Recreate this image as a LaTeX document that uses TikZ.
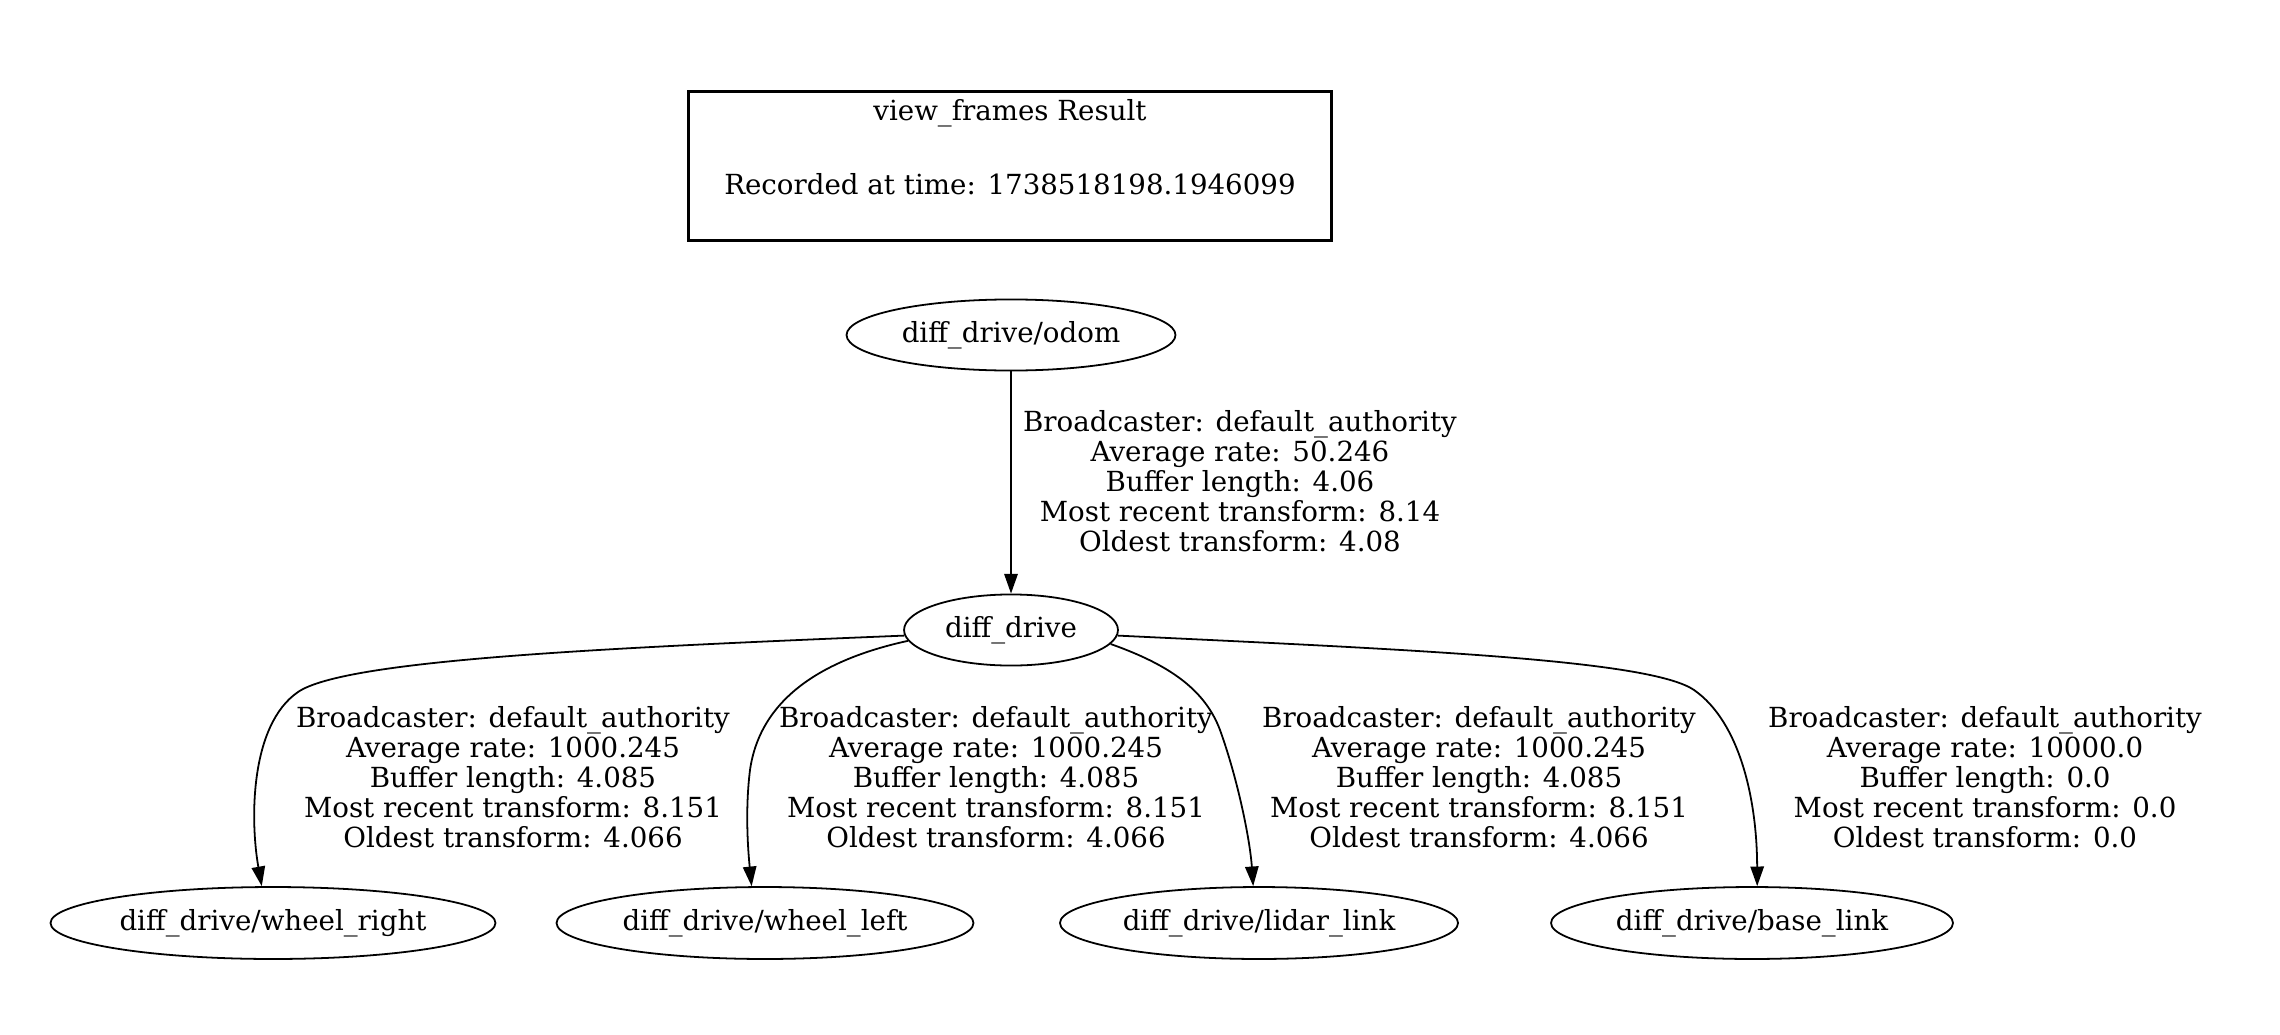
\documentclass[tikz,border=0pt]{standalone}
\usepackage{fontspec}
\setmainfont{DejaVu Serif}
\usetikzlibrary{shapes.geometric,arrows.meta}
\newcommand\gvfont{\fontsize{15.5pt}{16.8pt}\selectfont}
\tikzset{
  frame/.style={ellipse, draw, line width=1pt, inner sep=0pt, font=\gvfont},
  leaf/.style={frame, minimum height=40.3pt},
  elabel/.style={align=center, font=\gvfont, inner sep=0pt},
  conn/.style={draw, line width=1pt, -{Triangle[length=11pt,width=7.5pt]}},
  titlebox/.style={draw, line width=2pt, minimum width=360pt, minimum height=83.5pt, inner sep=0pt},
  titletext/.style={font=\gvfont, inner sep=0pt, anchor=base}
}
\begin{document}
\begin{tikzpicture}[x=0.56pt, y=-0.56pt]
\useasboundingbox (0,0) rectangle (2280,1035);
% title
\node[titlebox] (title) at (1010,166) {};
\node[titletext] (t1) at (1010,121) {view\_frames Result};
\node[titletext] (t2) at (1010,195) {Recorded at time: 1738518198.1946099};
% frames
\node[frame, minimum width=184.2pt, minimum height=39.8pt] (od) at (1011,335) {\makebox[0pt]{diff\_drive/odom}};
\node[frame, minimum width=119.8pt, minimum height=39.8pt] (dd) at (1011,630) {\makebox[0pt]{diff\_drive}};
\node[leaf, minimum width=249.2pt] (wr) at (273,923) {\makebox[0pt]{diff\_drive/wheel\_right}};
\node[leaf, minimum width=233.5pt] (wl) at (765,923) {\makebox[0pt]{diff\_drive/wheel\_left}};
\node[leaf, minimum width=222.9pt] (ll) at (1259,923) {\makebox[0pt]{diff\_drive/lidar\_link}};
\node[leaf, minimum width=225.1pt] (bl) at (1752,923) {\makebox[0pt]{diff\_drive/base\_link}};
% connectors
\path[conn] (od.south) -- (dd.north);
\path[conn] (dd.183) .. controls (600,648) and (345,660) .. (298,692)
                     .. controls (250,725) and (250,820) .. (wr.107);
\path[conn] (dd.186) .. controls (820,660) and (760,700) .. (750,770)
                     .. controls (745,810) and (748,850) .. (wl.110);
\path[conn] (dd.352) .. controls (1170,665) and (1205,690) .. (1220,730)
                     .. controls (1238,780) and (1250,840) .. (ll.99);
\path[conn] (dd.357) .. controls (1420,650) and (1650,660) .. (1694,690)
                     .. controls (1740,722) and (1757,800) .. (bl.82);
% labels
\node[elabel] (lod) at (1240,481) {Broadcaster: default\_authority\\Average rate: 50.246\\Buffer length: 4.06\\Most recent transform: 8.14\\Oldest transform: 4.08};
\node[elabel] (lwr) at (513,777) {Broadcaster: default\_authority\\Average rate: 1000.245\\Buffer length: 4.085\\Most recent transform: 8.151\\Oldest transform: 4.066};
\node[elabel] (lwl) at (996,777) {Broadcaster: default\_authority\\Average rate: 1000.245\\Buffer length: 4.085\\Most recent transform: 8.151\\Oldest transform: 4.066};
\node[elabel] (lll) at (1479,777) {Broadcaster: default\_authority\\Average rate: 1000.245\\Buffer length: 4.085\\Most recent transform: 8.151\\Oldest transform: 4.066};
\node[elabel] (lbl) at (1985,777) {Broadcaster: default\_authority\\Average rate: 10000.0\\Buffer length: 0.0\\Most recent transform: 0.0\\Oldest transform: 0.0};
\end{tikzpicture}
\end{document}
